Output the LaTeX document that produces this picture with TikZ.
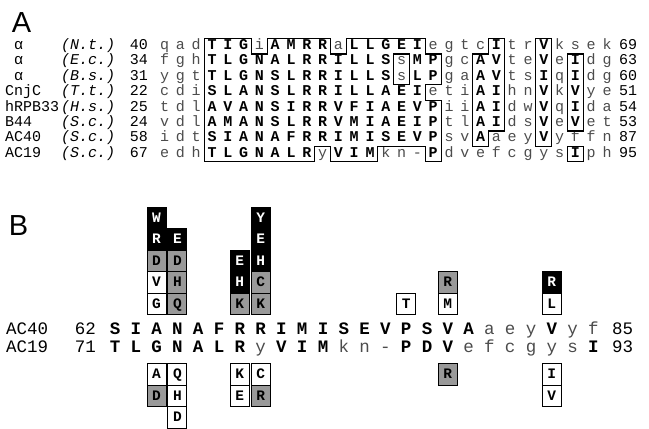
\documentclass[tikz,border=0pt]{standalone}
\usepackage{fontspec}
\setmainfont{Liberation Serif}
\setmonofont{Liberation Mono}
\newfontfamily\panelfont{Liberation Sans}
\usetikzlibrary{positioning}

\definecolor{lowc}{gray}{0.3}
% upper case residues bold, the rest plain and grey
\newcommand{\rs}[1]{%
  \ifnum\expandafter`#1>64 \ifnum\expandafter`#1<91 \textbf{#1}\else\textcolor{lowc}{#1}\fi
  \else\textcolor{lowc}{#1}\fi}

\begin{document}
\begin{tikzpicture}[x=1pt, y=-1pt,
  resa/.style = {inner sep=0pt, font=\fontsize{15}{15}\selectfont\ttfamily,
                 text height=9.5pt, text depth=3pt},
  resb/.style = {inner sep=0pt, font=\fontsize{17.5}{17.5}\selectfont\ttfamily,
                 text height=11pt, text depth=3.5pt},
  outl/.style = {line width=1.1pt},
  cell/.style = {draw, line width=0.9pt, minimum width=19pt, minimum height=21.5pt,
                 inner sep=0pt, text height=9pt, text depth=0pt,
                 font=\fontsize{14.5}{14.5}\selectfont\ttfamily\bfseries},
  cellk/.style = {cell, fill=black, text=white},
  cellg/.style = {cell, fill=black!40},
  cellw/.style = {cell, fill=white},
  panel/.style = {inner sep=0pt, font=\fontsize{29}{29}\selectfont\panelfont},
]
\useasboundingbox (0,0) rectangle (649,429);

\node[panel] (labA) at (21.5,22.5) {A};
\node[panel] (labB) at (18.5,226) {B};

% panel A: names
\foreach \nm/\spc/\stn/\enn [count=\row from 0] in {
  {\phantom{C}α}/N.t./40/69, {\phantom{C}α}/E.c./34/63, {\phantom{C}α}/B.s./31/60,
  CnjC/T.t./22/51, hRPB33/H.s./25/54, B44/S.c./24/53, AC40/S.c./58/87, AC19/S.c./67/95}{
  \node[resa, anchor=west] (nm\row) at (5,46.3+15.4*\row) {\nm};
  \node[resa, anchor=west] (sp\row) at (61,46.3+15.4*\row) {\textit{(\spc)}};
  \node[resa, anchor=east] (st\row) at (148,46.3+15.4*\row) {\stn};
  \node[resa, anchor=west] (en\row) at (619,46.3+15.4*\row) {\enn};
}

% panel A: alignment on a grid of residues
\begin{scope}[shift={(204.1,38.6)}, x=15.8pt, y=-15.4pt]
\foreach \seq [count=\row from 0] in {
  {q,a,d,T,I,G,i,A,M,R,R,a,L,L,G,E,I,e,g,t,c,I,t,r,V,k,s,e,k},
  {f,g,h,T,L,G,N,A,L,R,R,I,L,L,S,s,M,P,g,c,A,V,t,e,V,e,I,d,g},
  {y,g,t,T,L,G,N,S,L,R,R,I,L,L,S,s,L,P,g,a,A,V,t,s,I,q,I,d,g},
  {c,d,i,S,L,A,N,S,L,R,R,I,L,L,A,E,I,e,t,i,A,I,h,n,V,k,V,y,e},
  {t,d,l,A,V,A,N,S,I,R,R,V,F,I,A,E,V,P,i,i,A,I,d,w,V,q,I,d,a},
  {v,d,l,A,M,A,N,S,L,R,R,V,M,I,A,E,I,P,t,l,A,I,d,s,V,e,V,e,t},
  {i,d,t,S,I,A,N,A,F,R,R,I,M,I,S,E,V,P,s,v,A,a,e,y,V,y,f,f,n},
  {e,d,h,T,L,G,N,A,L,R,y,V,I,M,k,n,-,P,d,v,e,f,c,g,y,s,I,p,h}}
  \foreach \ch [count=\k from 0] in \seq
    \node[resa] (a\row-\k) at (\k-2.5,\row+0.5) {\rs{\ch}};

% conserved blocks
\draw[outl] (0,0) -| (3,1) -| (4,0) -| (8,1) -| (9,0) -| (14,1) -| (15,3) -| (14,4)
  -| (15,8) -| (14,7) -| (11,8) -| (8,7) -| (7,8) -- (0,8) -- cycle;
\draw[outl] (12,1) rectangle (13,3);
\draw[outl] (18,0) -| (19,6) -| (18,7) -| (17,1) -- (18,1) -- cycle;
\draw[outl] (21,0) rectangle (22,7);
\draw[outl] (23,1) rectangle (24,6);
\draw[outl] (23,7) rectangle (24,8);
\end{scope}

% panel B: the two sequences
\foreach \seq/\nm/\stn/\enn/\yy in {
  {S,I,A,N,A,F,R,R,I,M,I,S,E,V,P,S,V,A,a,e,y,V,y,f}/AC40/62/85/331,
  {T,L,G,N,A,L,R,y,V,I,M,k,n,-,P,D,V,e,f,c,g,y,s,I}/AC19/71/93/349}{
  \node[resb, anchor=west] (b\nm) at (6,\yy) {\nm};
  \node[resb, anchor=east] (bs\nm) at (96,\yy) {\stn};
  \node[resb, anchor=west] (be\nm) at (612,\yy) {\enn};
  \foreach \ch [count=\k from 0] in \seq
    \node[resb] (b\nm-\k) at (115+20.8*\k,\yy) {\rs{\ch}};
}

% substitutions above AC40 (listed bottom up)
\foreach \cl/\cells in {2/{G/w,V/w,D/g,R/k,W/k}, 3/{Q/g,H/g,D/g,E/k},
    6/{K/g,H/k,E/k}, 7/{K/g,C/g,H/k,E/k,Y/k}, 14/{T/w}, 16/{M/w,R/g}, 21/{L/w,R/k}}
  \foreach \ltr/\fil [count=\ii from 0] in \cells
    \node[cell\fil] (u\cl-\ii) at (115+20.8*\cl,314.5-21.5*\ii-10.75) {\ltr};

% substitutions below AC19 (listed top down)
\foreach \cl/\cells in {2/{A/w,D/g}, 3/{Q/w,H/w,D/w}, 6/{K/w,E/w}, 7/{C/w,R/g},
    16/{R/g}, 21/{I/w,V/w}}
  \foreach \ltr/\fil [count=\ii from 0] in \cells
    \node[cell\fil] (d\cl-\ii) at (115+20.8*\cl,363.5+21.5*\ii+10.75) {\ltr};

\end{tikzpicture}
\end{document}
